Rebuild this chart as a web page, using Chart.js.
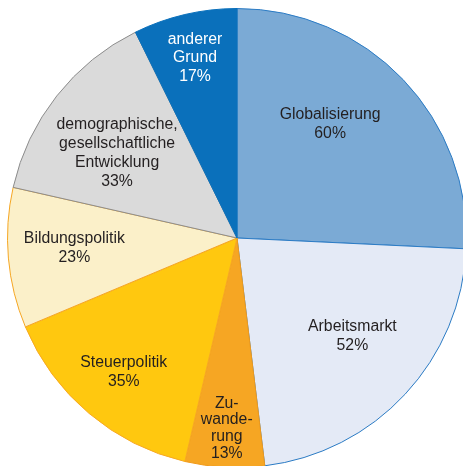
<!DOCTYPE html>
<html>
<head>
<meta charset="utf-8">
<script src="https://cdn.jsdelivr.net/npm/chart.js@4"></script>
<style>
  html, body { margin: 0; padding: 0; background: #fff; overflow: hidden; }
  #wrap { position: absolute; left: 0; top: 0; width: 480px; height: 480px; }
</style>
</head>
<body>
<div id="wrap"><canvas id="pie"></canvas></div>
<script>
// Daten aus der Grafik
const labels = [
    ['Globalisierung'],
    ['Arbeitsmarkt'],
    ['Zu-', 'wande-', 'rung'],
    ['Steuerpolitik'],
    ['Bildungspolitik'],
    ['demographische,', 'gesellschaftliche', 'Entwicklung'],
    ['anderer', 'Grund']
];
const values = [60, 52, 13, 35, 23, 33, 17];

const fillColors = ['#7baad5', '#e4eaf6', '#f6a623', '#ffc80f', '#fbf0c9', '#dadada', '#0a70bb'];
const lineColors = ['#2b7bc4', '#2b7bc4', '#f09a1a', '#f7a823', '#f5a623', '#8c8c8c', '#0a70bb'];
const textColors = ['#231f20', '#231f20', '#231f20', '#231f20', '#231f20', '#231f20', '#ffffff'];

// Lage der Beschriftung: Anteil des Radius, Winkelkorrektur (Grad), Zeilenabstand
const labelRadius = [0.64, 0.66, 0.83, 0.765, 0.71, 0.64, 0.805];
const labelTurn = [-7, -2.5, 0, 0, 1.5, -3, 0];
const lineGap = [19, 19, 16.7, 19, 19, 18.8, 18.5];

const sliceLabels = {
    id: 'sliceLabels',
    afterDatasetsDraw(chart) {
        const ctx = chart.ctx;
        const arcs = chart.getDatasetMeta(0).data;
        ctx.save();
        ctx.font = '15.8px "Liberation Sans", Arial, sans-serif';
        ctx.textAlign = 'center';
        ctx.textBaseline = 'middle';
        arcs.forEach((arc, i) => {
            const mid = (arc.startAngle + arc.endAngle) / 2 + labelTurn[i] * Math.PI / 180;
            const r = arc.outerRadius * labelRadius[i];
            const cx = arc.x + Math.cos(mid) * r;
            const cy = arc.y + Math.sin(mid) * r;
            const lines = [...labels[i], values[i] + '%'];
            const lh = lineGap[i];
            const top = cy - (lines.length - 1) * lh / 2;
            ctx.fillStyle = textColors[i];
            lines.forEach((t, k) => ctx.fillText(t, cx, top + k * lh));
        });
        ctx.restore();
    }
};

new Chart(document.getElementById('pie'), {
    type: 'pie',
    data: {
        labels: labels.map(l => l.join(' ')),
        datasets: [{
            data: values,
            backgroundColor: fillColors,
            borderColor: lineColors,
            borderWidth: 1
        }]
    },
    options: {
        responsive: true,
        maintainAspectRatio: false,
        animation: false,
        layout: { padding: { left: 7, top: 8, right: 13, bottom: 12 } },
        plugins: { legend: { display: false }, tooltip: { enabled: false } }
    },
    plugins: [sliceLabels]
});
</script>
</body>
</html>
